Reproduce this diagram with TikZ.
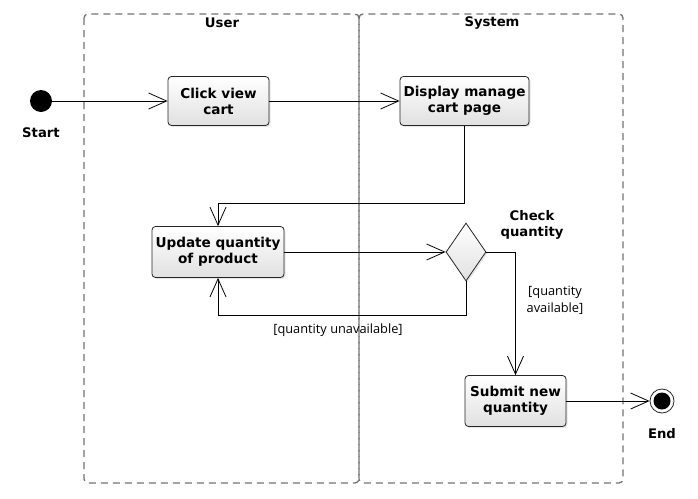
\documentclass[tikz,border=0pt]{standalone}
\usepackage{fontspec}
\setmainfont{DejaVu Sans}
\newfontfamily\guardfont{Open Sans}
\usetikzlibrary{arrows.meta,shapes.geometric,shadows}

\begin{document}
\begin{tikzpicture}[x=1pt,y=-1pt,
  act/.style={draw=black!85, line width=0.8pt, rounded corners=3.5pt, top color=white, bottom color=black!12,
    drop shadow={opacity=0.2, shadow xshift=1.5pt, shadow yshift=-1.5pt},
    align=center, inner sep=0pt, font=\fontsize{13.6}{16}\selectfont\bfseries},
  title/.style={align=center, font=\fontsize{13.2}{16}\selectfont\bfseries},
  guard/.style={align=center, font=\guardfont\fontsize{12.8}{17}\selectfont},
  flow/.style={line width=0.8pt, -{Straight Barb[length=18pt,width=16pt,line width=0.8pt]}},
  lane/.style={draw=black!55, line width=1.3pt, dash pattern=on 7pt off 5pt, rounded corners=4pt}]
  \useasboundingbox (0,0) rectangle (698,498);

  \draw[lane] (84,14) rectangle (359,483);
  \draw[lane] (359,14) rectangle (623,483);
  \node[title] (user) at (222,23) {User};
  \node[title] (system) at (492,23) {System};

  \node[circle, fill=black, minimum size=22pt, inner sep=0pt] (start) at (41,101) {};
  \node[title] (startlbl) at (41,133) {Start};
  \node[act, minimum width=101pt, minimum height=49pt] (click) at (218.5,101) {Click view\\cart};
  \node[act, minimum width=129pt, minimum height=49pt] (disp) at (464.5,101) {Display manage\\cart page};
  \node[act, minimum width=132pt, minimum height=51pt] (upd) at (218,252) {Update quantity\\of product};
  \node[diamond, draw=black!85, line width=0.8pt, top color=white, bottom color=black!12,
    drop shadow={opacity=0.2, shadow xshift=1.5pt, shadow yshift=-1.5pt},
    minimum width=40pt, minimum height=58pt, inner sep=0pt] (chk) at (466,252) {};
  \node[title] (chklbl) at (532,225) {Check\\quantity};
  \node[act, minimum width=101pt, minimum height=51pt] (sub) at (515.5,401) {Submit new\\quantity};
  \node[circle, draw=black!85, line width=0.8pt, fill=white, minimum size=24pt, inner sep=0pt,
    path picture={\fill[black] (path picture bounding box.center) circle (8.5pt);}] (end) at (662,401) {};
  \node[title] (endlbl) at (662,434) {End};

  \draw[flow] (start) -- (click);
  \draw[flow] (click) -- (disp);
  \draw[flow] (disp.south) -- ++(0,77) -| (upd.north);
  \draw[flow] (upd) -- (chk);
  \draw[flow] (chk.south) -- ++(0,34) -| (upd.south);
  \draw[flow] (chk.east) -| (sub.north);
  \draw[flow] (sub) -- (end);

  \node[guard] (unavail) at (338,330) {[quantity unavailable]};
  \node[guard] (avail) at (555,300) {[quantity\\available]};
\end{tikzpicture}
\end{document}
